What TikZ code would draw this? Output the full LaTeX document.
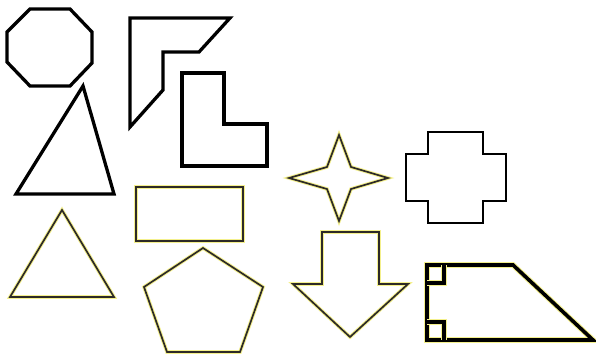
\documentclass[tikz,border=0pt]{standalone}
\usepackage{tikz}
\usetikzlibrary{calc}
\definecolor{glowyellow}{HTML}{F4F08C}

\begin{document}
\begin{tikzpicture}[
    x=1pt,y=-1pt,
    outline/.style={draw=black,line width=3.3pt,line join=miter},
    thinline/.style={draw=black,line width=2.8pt,line join=miter},
    glowline/.style={draw=black!90!olive,line width=1.7pt,line join=miter,
      preaction={draw=glowyellow,line width=3.6pt}},
    heavyglow/.style={draw=black,line width=3.6pt,line join=miter,
      preaction={draw=glowyellow,line width=5.6pt}}
  ]
    \useasboundingbox[fill=white] (0,0) rectangle (596,354);

    % black outlines
    \draw[outline] (30,9) -- (70,9) -- (92,32) -- (92,63) -- (70,86)
      -- (30,86) -- (7,62) -- (7,32) -- cycle;
    \draw[outline] (83,86) -- (114,194) -- (16,194) -- cycle;
    \draw[outline] (130,18) -- (230,18) -- (199,52) -- (163,52)
      -- (163,90) -- (130,127) -- cycle;
    \draw[outline] (182,73) -- (224,73) -- (224,124) -- (267,124)
      -- (267,166) -- (182,166) -- cycle;
    \draw[thinline] (428,132) -- (483,132) -- (483,154) -- (506,154)
      -- (506,201) -- (483,201) -- (483,223) -- (428,223) -- (428,201)
      -- (406,201) -- (406,154) -- (428,154) -- cycle;

    % outlines with a yellow glow
    \draw[glowline] (136,187) rectangle (243,241);
    \draw[glowline] (62,210) -- (114,297) -- (10,297) -- cycle;
    \draw[glowline] (203,248) -- (263,287) -- (240,352) -- (167,352)
      -- (144,287) -- cycle;
    \draw[glowline] (339,135) -- (351,167) -- (388,178) -- (351,189)
      -- (339,221) -- (327,189) -- (289,178) -- (327,167) -- cycle;
    \draw[glowline] (322,232) -- (379,232) -- (379,284) -- (408,284)
      -- (350,337) -- (293,284) -- (322,284) -- cycle;
    \draw[heavyglow] (427,265) -- (513,265) -- (593,340) -- (427,340) -- cycle;
    \draw[heavyglow] (427,283) -- (444,283) -- (444,265);
    \draw[heavyglow] (427,322) -- (444,322) -- (444,340);
\end{tikzpicture}
\end{document}
